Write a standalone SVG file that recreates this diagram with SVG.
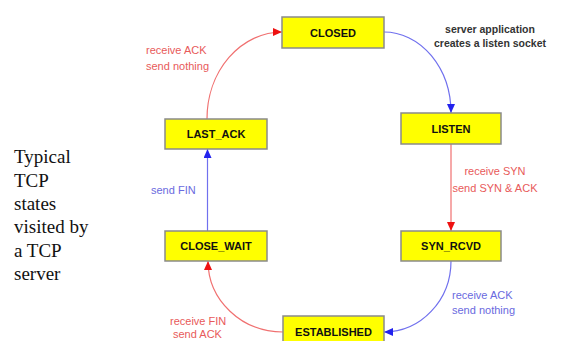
<svg xmlns="http://www.w3.org/2000/svg" width="561" height="341" viewBox="0 0 561 341">
<style>
.box{fill:#ffff00;stroke:#8a8a8a;stroke-width:1.5}
.lbl{font-family:"Liberation Sans",Arial,sans-serif;font-weight:bold;font-size:11px;fill:#111;text-anchor:middle}
.red{font-family:"Liberation Sans",Arial,sans-serif;font-size:11px;fill:#e85a5a}
.blue{font-family:"Liberation Sans",Arial,sans-serif;font-size:11px;fill:#6a6ae0}
.note{font-family:"Liberation Sans",Arial,sans-serif;font-weight:bold;font-size:10.5px;fill:#333;text-anchor:middle}
.side{font-family:"Liberation Serif","Times New Roman",serif;font-size:19px;fill:#111}
.rl{fill:none;stroke:#f07070;stroke-width:1.2}
.bl{fill:none;stroke:#7070ee;stroke-width:1.2}
</style>
<defs>
<marker id="ar" markerUnits="userSpaceOnUse" markerWidth="10" markerHeight="10" refX="9" refY="4" orient="auto"><path d="M0,0 L9,4 L0,8 Z" fill="#ee1111"/></marker>
<marker id="ab" markerUnits="userSpaceOnUse" markerWidth="10" markerHeight="10" refX="9" refY="4" orient="auto"><path d="M0,0 L9,4 L0,8 Z" fill="#2222ee"/></marker>
</defs>
<rect width="561" height="341" fill="#ffffff"/>
<g id="caption">
<text class="side" x="14" y="163">Typical</text>
<text class="side" x="14" y="186.5">TCP</text>
<text class="side" x="14" y="210">states</text>
<text class="side" x="14" y="233">visited by</text>
<text class="side" x="14" y="256.5">a TCP</text>
<text class="side" x="14" y="280">server</text>
</g>
<g id="connectors">
<path class="rl" d="M207,119 A75,87 0 0 1 282,32" marker-end="url(#ar)"/>
<path class="bl" d="M384,32 A67,81 0 0 1 451,113" marker-end="url(#ab)"/>
<path class="rl" d="M451,144 L451,231" marker-end="url(#ar)"/>
<path class="bl" d="M451,261 A67,71 0 0 1 384,332" marker-end="url(#ab)"/>
<path class="rl" d="M283,332 A75,71 0 0 1 208,261" marker-end="url(#ar)"/>
<path class="bl" d="M207.5,231 L207.5,149" marker-end="url(#ab)"/>
<text class="red" x="146" y="54">receive  ACK</text>
<text class="red" x="146" y="70">send nothing</text>
<text class="note" x="490" y="33">server application</text>
<text class="note" x="490" y="47">creates a listen socket</text>
<text class="red" x="495" y="175" text-anchor="middle">receive SYN</text>
<text class="red" x="495" y="191.5" text-anchor="middle">send SYN &amp; ACK</text>
<text class="blue" x="151" y="194">send FIN</text>
<text class="blue" x="452" y="299">receive  ACK</text>
<text class="blue" x="452" y="314">send nothing</text>
<text class="red" x="170" y="325">receive FIN</text>
<text class="red" x="173" y="338">send ACK</text>
</g>
<g id="closed"><rect class="box" x="282" y="17" width="102" height="31"/><text class="lbl" x="333" y="36.5">CLOSED</text></g>
<g id="listen"><rect class="box" x="401" y="113" width="100" height="31"/><text class="lbl" x="451" y="132.5">LISTEN</text></g>
<g id="syn_rcvd"><rect class="box" x="401" y="231" width="100" height="30"/><text class="lbl" x="451" y="250">SYN_RCVD</text></g>
<g id="established"><rect class="box" x="283" y="316" width="101" height="31"/><text class="lbl" x="333.5" y="335.5">ESTABLISHED</text></g>
<g id="close_wait"><rect class="box" x="165" y="231" width="102" height="30"/><text class="lbl" x="216" y="250">CLOSE_WAIT</text></g>
<g id="last_ack"><rect class="box" x="165" y="119" width="102" height="30"/><text class="lbl" x="216" y="138">LAST_ACK</text></g>
</svg>
